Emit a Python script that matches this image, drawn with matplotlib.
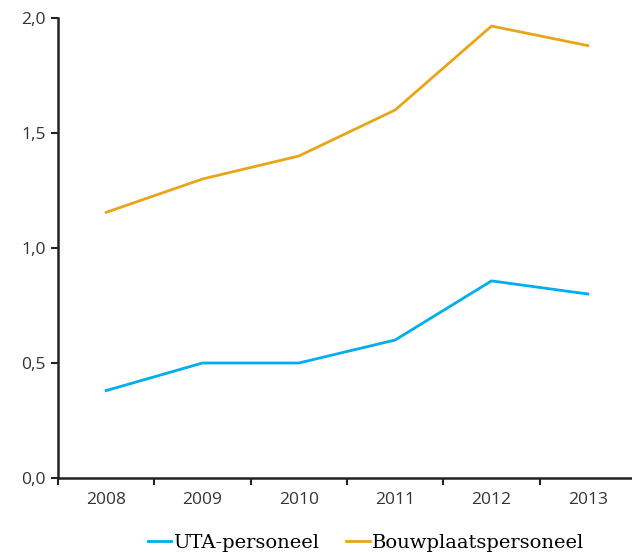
import matplotlib
matplotlib.use("Agg")
import matplotlib.pyplot as plt
from matplotlib.lines import Line2D

years = ["2008", "2009", "2010", "2011", "2012", "2013"]
uta = [0.38, 0.50, 0.50, 0.60, 0.857, 0.80]
bouw = [1.155, 1.30, 1.40, 1.60, 1.965, 1.88]
yticks = [0.0, 0.5, 1.0, 1.5, 2.0]
ytick_labels = ["0,0", "0,5", "1,0", "1,5", "2,0"]

fig = plt.figure(figsize=(6.32, 5.6), dpi=100)
ax = fig.add_axes([58/632, 1-478/560, 578/632, 460/560])
x = list(range(len(years)))
c_uta = "#00AEEF"
c_bouw = "#E9A51A"
ax.plot(x, uta, color=c_uta, lw=2.0, solid_joinstyle="miter")
ax.plot(x, bouw, color=c_bouw, lw=2.0, solid_joinstyle="miter")

ax.set_xlim(-0.5, 5.5)
ax.set_ylim(0, 2.0)
ax.set_yticks(yticks)
ax.set_yticklabels(ytick_labels, fontfamily="Open Sans", fontsize=12.5, color="#333333")
ax.set_xticks(x)
ax.set_xticklabels(years, fontfamily="Open Sans", fontsize=12.5, color="#333333")
ax.set_xticks([i - 0.5 for i in range(len(years) + 1)], minor=True)
ax.tick_params(axis="x", which="major", length=0, pad=10)
ax.tick_params(axis="x", which="minor", length=5, width=1.5, direction="out", color="#222222")
ax.tick_params(axis="y", length=5, width=1.5, direction="out", color="#222222", pad=4)
for s in ["top", "right"]:
    ax.spines[s].set_visible(False)
for s in ["left", "bottom"]:
    ax.spines[s].set_linewidth(1.8)
    ax.spines[s].set_color("#222222")

handles = [Line2D([], [], color=c_uta, lw=2.0), Line2D([], [], color=c_bouw, lw=2.0)]
fig.legend(handles, ["UTA-personeel", "Bouwplaatspersoneel"], loc="center",
           bbox_to_anchor=(366/632, 1-543/560), ncol=2, frameon=False,
           prop={"family": "DejaVu Serif", "size": 14}, handlelength=1.2,
           handletextpad=0.1, columnspacing=1.4)

fig.savefig("out.png", dpi=100)
